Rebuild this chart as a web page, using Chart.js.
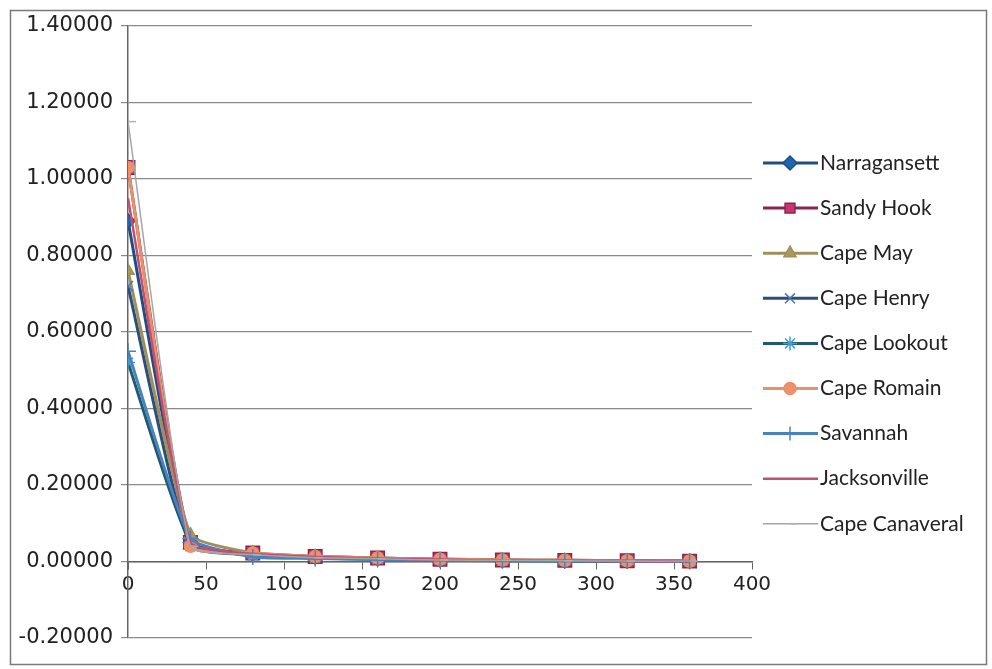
<!DOCTYPE html>
<html>
<head>
<meta charset="utf-8">
<script src="https://cdn.jsdelivr.net/npm/chart.js@4.4.1/dist/chart.umd.min.js"></script>
<style>
  html, body { margin: 0; padding: 0; background: #fff; }
  #wrap { width: 992px; height: 669px; position: relative; }
</style>
</head>
<body>
<div id="wrap"><canvas id="chart" width="992" height="669"></canvas></div>
<script>
// distances (x) shared by every station
const distances = [0, 40, 80, 120, 160, 200, 240, 280, 320, 360];

const stations = ['Narragansett', 'Sandy Hook', 'Cape May', 'Cape Henry', 'Cape Lookout',
    'Cape Romain', 'Savannah', 'Jacksonville', 'Cape Canaveral'];

const narragansett  = [0.89, 0.05, 0.020, 0.012, 0.008, 0.005, 0.003, 0.002, 0.001, 0.001];
const sandyHook     = [1.03, 0.05, 0.022, 0.013, 0.009, 0.006, 0.004, 0.003, 0.002, 0.001];
const capeMay       = [0.76, 0.07, 0.022, 0.013, 0.009, 0.006, 0.004, 0.003, 0.002, 0.001];
const capeHenry     = [0.72, 0.04, 0.018, 0.010, 0.007, 0.004, 0.003, 0.002, 0.001, 0.001];
const capeLookout   = [0.52, 0.05, 0.015, 0.009, 0.006, 0.004, 0.002, 0.002, 0.001, 0.000];
const capeRomain    = [1.03, 0.04, 0.022, 0.013, 0.009, 0.006, 0.004, 0.003, 0.002, 0.001];
const savannah      = [0.55, 0.06, 0.012, 0.008, 0.005, 0.003, 0.002, 0.001, 0.001, 0.000];
const jacksonville  = [0.95, 0.05, 0.020, 0.012, 0.008, 0.005, 0.003, 0.002, 0.001, 0.001];
const capeCanaveral = [1.15, 0.04, 0.018, 0.010, 0.007, 0.004, 0.003, 0.002, 0.001, 0.001];

const seriesValues = [narragansett, sandyHook, capeMay, capeHenry, capeLookout,
    capeRomain, savannah, jacksonville, capeCanaveral];

const lineColors  = ['#1f4e80', '#8c2453', '#a08f5c', '#2b4f78', '#1f5a70', '#e89068', '#4a82c0', '#c04f72', '#a6a6a6'];
const pointColors = ['#1f66b0', '#c8356f', '#a89a5e', '#4a78b0', '#3fa0c8', '#f0906a', '#4a82c0', '#c04f72', '#b0b0b0'];
const pointStyles = ['rectRot', 'rect', 'triangle', 'crossRot', 'star', 'circle', 'cross', false, 'dash'];
const pointSizes  = [7, 9.5, 7, 7, 7, 6, 8, 0, 8];
const lineWidths  = [3, 3, 3, 3, 3, 3, 3, 2.5, 1.5];

const datasets = stations.map((name, i) => ({
    label: name,
    data: distances.map((d, j) => ({ x: d, y: seriesValues[i][j] })),
    showLine: true,
    order: stations.length - i, // later series drawn on top, as in Excel
    borderColor: lineColors[i],
    borderWidth: lineWidths[i],
    backgroundColor: pointColors[i],
    pointBorderColor: i === 3 || i === 4 || i === 6 || i === 8 ? pointColors[i] : lineColors[i],
    pointBorderWidth: 1.5,
    pointStyle: pointStyles[i],
    pointRadius: pointSizes[i],
    tension: 0.15
}));

// legend with line + marker, and the outer frame
const sideLegend = {
    id: 'sideLegend',
    afterDraw(chart) {
        const ctx = chart.ctx;
        ctx.save();
        ctx.strokeStyle = '#7a7a7a';
        ctx.lineWidth = 1.5;
        ctx.strokeRect(10.5, 10.5, 976, 654);
        stations.forEach((name, i) => {
            const ds = chart.data.datasets[i];
            const y = 163 + i * 45.1;
            ctx.strokeStyle = ds.borderColor;
            ctx.lineWidth = ds.borderWidth;
            ctx.beginPath();
            ctx.moveTo(763, y);
            ctx.lineTo(818, y);
            ctx.stroke();
            if (ds.pointStyle) {
                ctx.fillStyle = ds.backgroundColor;
                ctx.strokeStyle = ds.pointBorderColor;
                ctx.lineWidth = 1.5;
                Chart.helpers.drawPoint(ctx, { pointStyle: ds.pointStyle, radius: Math.min(ds.pointRadius, 7), borderWidth: 1.5 }, 790, y);
            }
            ctx.fillStyle = '#222';
            ctx.font = '21px Lato';
            ctx.textBaseline = 'middle';
            ctx.fillText(name, 820, y);
        });
        ctx.restore();
    }
};

new Chart(document.getElementById('chart').getContext('2d'), {
    type: 'scatter',
    data: { datasets },
    options: {
        responsive: false,
        animation: false,
        layout: { padding: { left: 10, top: 26, right: 240, bottom: 31 } },
        plugins: {
            legend: { display: false },
            tooltip: { enabled: false }
        },
        scales: {
            x: {
                type: 'linear',
                position: { y: 0 },
                min: 0,
                max: 400,
                ticks: {
                    stepSize: 50,
                    color: '#222',
                    font: { family: 'DejaVu Sans', size: 20 },
                    padding: 4
                },
                grid: { drawOnChartArea: false, drawTicks: true, tickLength: 7, color: '#666' },
                border: { color: '#666', width: 1.5 }
            },
            y: {
                min: -0.2,
                max: 1.4,
                ticks: {
                    stepSize: 0.2,
                    color: '#222',
                    font: { family: 'DejaVu Sans', size: 21 },
                    padding: 8,
                    callback: v => (Math.abs(v) < 1e-9 ? 0 : v).toFixed(5)
                },
                grid: { color: '#8a8a8a', lineWidth: 1.2, tickLength: 7 },
                border: { color: '#666', width: 1.5 },
                afterFit(scale) { scale.width = 118; }
            }
        }
    },
    plugins: [sideLegend]
});
</script>
</body>
</html>
